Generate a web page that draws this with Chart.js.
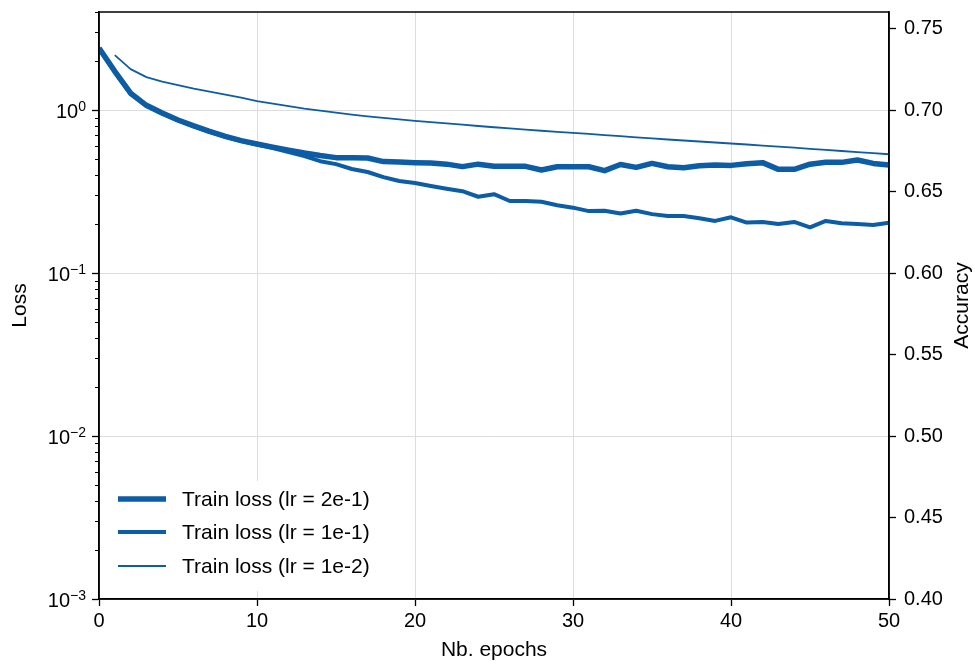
<!DOCTYPE html>
<html>
<head>
<meta charset="utf-8">
<script src="https://cdn.jsdelivr.net/npm/chart.js@4.4.0/dist/chart.umd.min.js"></script>
<style>
  html, body { margin: 0; padding: 0; background: #fff; }
</style>
</head>
<body>
<canvas id="myChart" width="975" height="664"></canvas>
<script>
var epochs = [0, 1, 2, 3, 4, 5, 6, 7, 8, 9, 10, 11, 12, 13, 14, 15, 16, 17, 18, 19, 20,
  21, 22, 23, 24, 25, 26, 27, 28, 29, 30, 31, 32, 33, 34, 35, 36, 37, 38, 39, 40,
  41, 42, 43, 44, 45, 46, 47, 48, 49, 50];

// lr = 2e-1 (epoch 0..50)
var loss2e1 = [2.40, 1.73, 1.27, 1.07, 0.96, 0.87, 0.80, 0.74, 0.69, 0.65, 0.62,
  0.593, 0.568, 0.545, 0.526, 0.511, 0.511, 0.508, 0.483, 0.480, 0.476,
  0.473, 0.466, 0.450, 0.466, 0.453, 0.452, 0.452, 0.429, 0.449, 0.449,
  0.449, 0.425, 0.464, 0.445, 0.471, 0.449, 0.443, 0.455, 0.460, 0.458,
  0.469, 0.476, 0.433, 0.433, 0.466, 0.478, 0.478, 0.494, 0.471, 0.460];

// lr = 1e-1 (epoch 0..50)
var loss1e1 = [2.38, 1.71, 1.26, 1.06, 0.95, 0.865, 0.795, 0.735, 0.685, 0.645, 0.615,
  0.585, 0.552, 0.522, 0.486, 0.466, 0.435, 0.417, 0.388, 0.367, 0.357,
  0.342, 0.329, 0.318, 0.294, 0.305, 0.277, 0.277, 0.274, 0.261, 0.252,
  0.240, 0.241, 0.232, 0.241, 0.230, 0.224, 0.224, 0.217, 0.209, 0.220,
  0.204, 0.206, 0.200, 0.206, 0.191, 0.209, 0.202, 0.200, 0.197, 0.204];

// lr = 1e-2 (epoch 1..50)
var loss1e2 = [2.175, 1.785, 1.594, 1.496, 1.423, 1.355, 1.299, 1.245, 1.193, 1.136,
  1.096, 1.058, 1.021, 0.993, 0.965, 0.938, 0.916, 0.896, 0.877, 0.860,
  0.844, 0.829, 0.814, 0.799, 0.785, 0.772, 0.759, 0.747, 0.736, 0.725,
  0.714, 0.703, 0.692, 0.681, 0.671, 0.660, 0.651, 0.642, 0.633, 0.624,
  0.615, 0.606, 0.597, 0.588, 0.579, 0.570, 0.561, 0.553, 0.544, 0.536];

var seriesLabels = ["Train loss (lr = 2e-1)", "Train loss (lr = 1e-1)", "Train loss (lr = 1e-2)"];
var xTicks = [0, 10, 20, 30, 40, 50];
var lossTicks = [0.001, 0.01, 0.1, 1];
var lossTickExp = ["\u22123", "\u22122", "\u22121", "0"];
var accTicks = [0.40, 0.45, 0.50, 0.55, 0.60, 0.65, 0.70, 0.75];

var blue = "#0C5DA5";
var fontFam = "'Liberation Sans', Arial, sans-serif";
var widths = [5.5, 4, 1.8];

function toPoints(xs, ys) {
  return ys.map(function (v, i) { return { x: xs[i], y: v }; });
}

function noPad(s) {
  s.paddingTop = 0;
  s.paddingBottom = 0;
  s.paddingLeft = 0;
  s.paddingRight = 0;
}

// log minor ticks, tick labels with exponents, legend, right title, top spine
var extras = {
  id: "extras",
  afterDatasetsDraw: function (chart) {
    var ctx = chart.ctx;
    var a = chart.chartArea;
    ctx.save();
    // legend box
    ctx.fillStyle = "#fff";
    ctx.fillRect(a.left + 8, 481, 292, 110);
    var ly = [499, 532, 566];
    for (var i = 0; i < 3; i++) {
      ctx.strokeStyle = blue;
      ctx.lineWidth = widths[i];
      ctx.beginPath();
      ctx.moveTo(118, ly[i]);
      ctx.lineTo(166, ly[i]);
      ctx.stroke();
      ctx.fillStyle = "#000";
      ctx.font = "21px " + fontFam;
      ctx.textBaseline = "middle";
      ctx.textAlign = "left";
      ctx.fillText(seriesLabels[i], 182, ly[i] + 1);
    }
    ctx.restore();
  },
  afterDraw: function (chart) {
    var ctx = chart.ctx;
    var a = chart.chartArea;
    var ys = chart.scales.y;
    ctx.save();
    // minor ticks on log axis
    ctx.strokeStyle = "#000";
    ctx.lineWidth = 1;
    for (var d = -3; d <= 0; d++) {
      for (var m = 2; m <= 9; m++) {
        var v = m * Math.pow(10, d);
        if (v > ys.max) continue;
        var py = Math.round(ys.getPixelForValue(v)) + 0.5;
        ctx.beginPath();
        ctx.moveTo(a.left, py);
        ctx.lineTo(a.left - 4, py);
        ctx.stroke();
      }
    }
    // log tick labels 10^n
    for (var k = 0; k < lossTicks.length; k++) {
      var y = ys.getPixelForValue(lossTicks[k]);
      ctx.fillStyle = "#000";
      ctx.textAlign = "right";
      ctx.textBaseline = "alphabetic";
      ctx.font = "14px " + fontFam;
      var ew = ctx.measureText(lossTickExp[k]).width;
      ctx.fillText(lossTickExp[k], 86, y + 1);
      ctx.font = "20px " + fontFam;
      ctx.fillText("10", 86 - ew, y + 7.5);
    }
    // right axis title, reading bottom to top
    ctx.translate(962, (a.top + a.bottom) / 2);
    ctx.rotate(-Math.PI / 2);
    ctx.textAlign = "center";
    ctx.textBaseline = "middle";
    ctx.font = "21px " + fontFam;
    ctx.fillText("Accuracy", 0, 0);
    ctx.setTransform(1, 0, 0, 1, 0, 0);
    // frame
    ctx.strokeStyle = "#000";
    ctx.lineWidth = 1.5;
    ctx.strokeRect(a.left, a.top, a.right - a.left, a.bottom - a.top);
    ctx.restore();
  }
};

new Chart(document.getElementById("myChart"), {
  type: "line",
  data: {
    datasets: [
      {
        label: seriesLabels[0],
        data: toPoints(epochs, loss2e1),
        borderColor: blue,
        borderWidth: widths[0],
        order: 3
      },
      {
        label: seriesLabels[1],
        data: toPoints(epochs, loss1e1),
        borderColor: blue,
        borderWidth: widths[1],
        order: 2
      },
      {
        label: seriesLabels[2],
        data: toPoints(epochs.slice(1), loss1e2),
        borderColor: blue,
        borderWidth: widths[2],
        order: 1
      }
    ]
  },
  options: {
    responsive: false,
    animation: false,
    devicePixelRatio: 1,
    layout: { padding: { top: 12, left: 0, right: 0, bottom: 0 } },
    elements: {
      point: { radius: 0 },
      line: { tension: 0, fill: false, borderJoinStyle: "round" }
    },
    plugins: {
      legend: { display: false },
      tooltip: { enabled: false }
    },
    scales: {
      x: {
        type: "linear",
        position: "bottom",
        min: 0,
        max: 50,
        afterBuildTicks: function (s) { s.ticks = xTicks.map(function (v) { return { value: v }; }); },
        afterFit: function (s) { s.height = 65; noPad(s); },
        grid: { color: "#dddddd", lineWidth: 1, tickLength: 7, tickColor: "#000", tickWidth: 1.3 },
        border: { display: true, color: "#000", width: 1.5 },
        ticks: { color: "#000", font: { family: fontFam, size: 20 }, padding: 3, maxRotation: 0 },
        title: { display: true, text: "Nb. epochs", color: "#000", font: { family: fontFam, size: 21 }, padding: { top: 0, bottom: 1 } }
      },
      y: {
        type: "logarithmic",
        position: "left",
        min: 0.001,
        max: 4.0,
        afterBuildTicks: function (s) { s.ticks = lossTicks.map(function (v) { return { value: v }; }); },
        afterFit: function (s) { s.width = 99; noPad(s); },
        grid: { color: "#dddddd", lineWidth: 1, tickLength: 7, tickColor: "#000", tickWidth: 1.3 },
        border: { display: true, color: "#000", width: 1.5 },
        ticks: { display: false },
        title: { display: true, text: "Loss", color: "#000", font: { family: fontFam, size: 21 }, padding: { top: 8, bottom: 0 } }
      },
      y2: {
        type: "linear",
        position: "right",
        min: 0.40,
        max: 0.7604,
        afterBuildTicks: function (s) { s.ticks = accTicks.map(function (v) { return { value: v }; }); },
        afterFit: function (s) { s.width = 86; noPad(s); },
        grid: { drawOnChartArea: false, tickLength: 7, tickColor: "#000", tickWidth: 1.3 },
        border: { display: true, color: "#000", width: 1.5 },
        ticks: {
          color: "#000",
          font: { family: fontFam, size: 20 },
          padding: 8,
          callback: function (v) { return v.toFixed(2); }
        },
        title: { display: false }
      }
    }
  },
  plugins: [extras]
});
</script>
</body>
</html>
